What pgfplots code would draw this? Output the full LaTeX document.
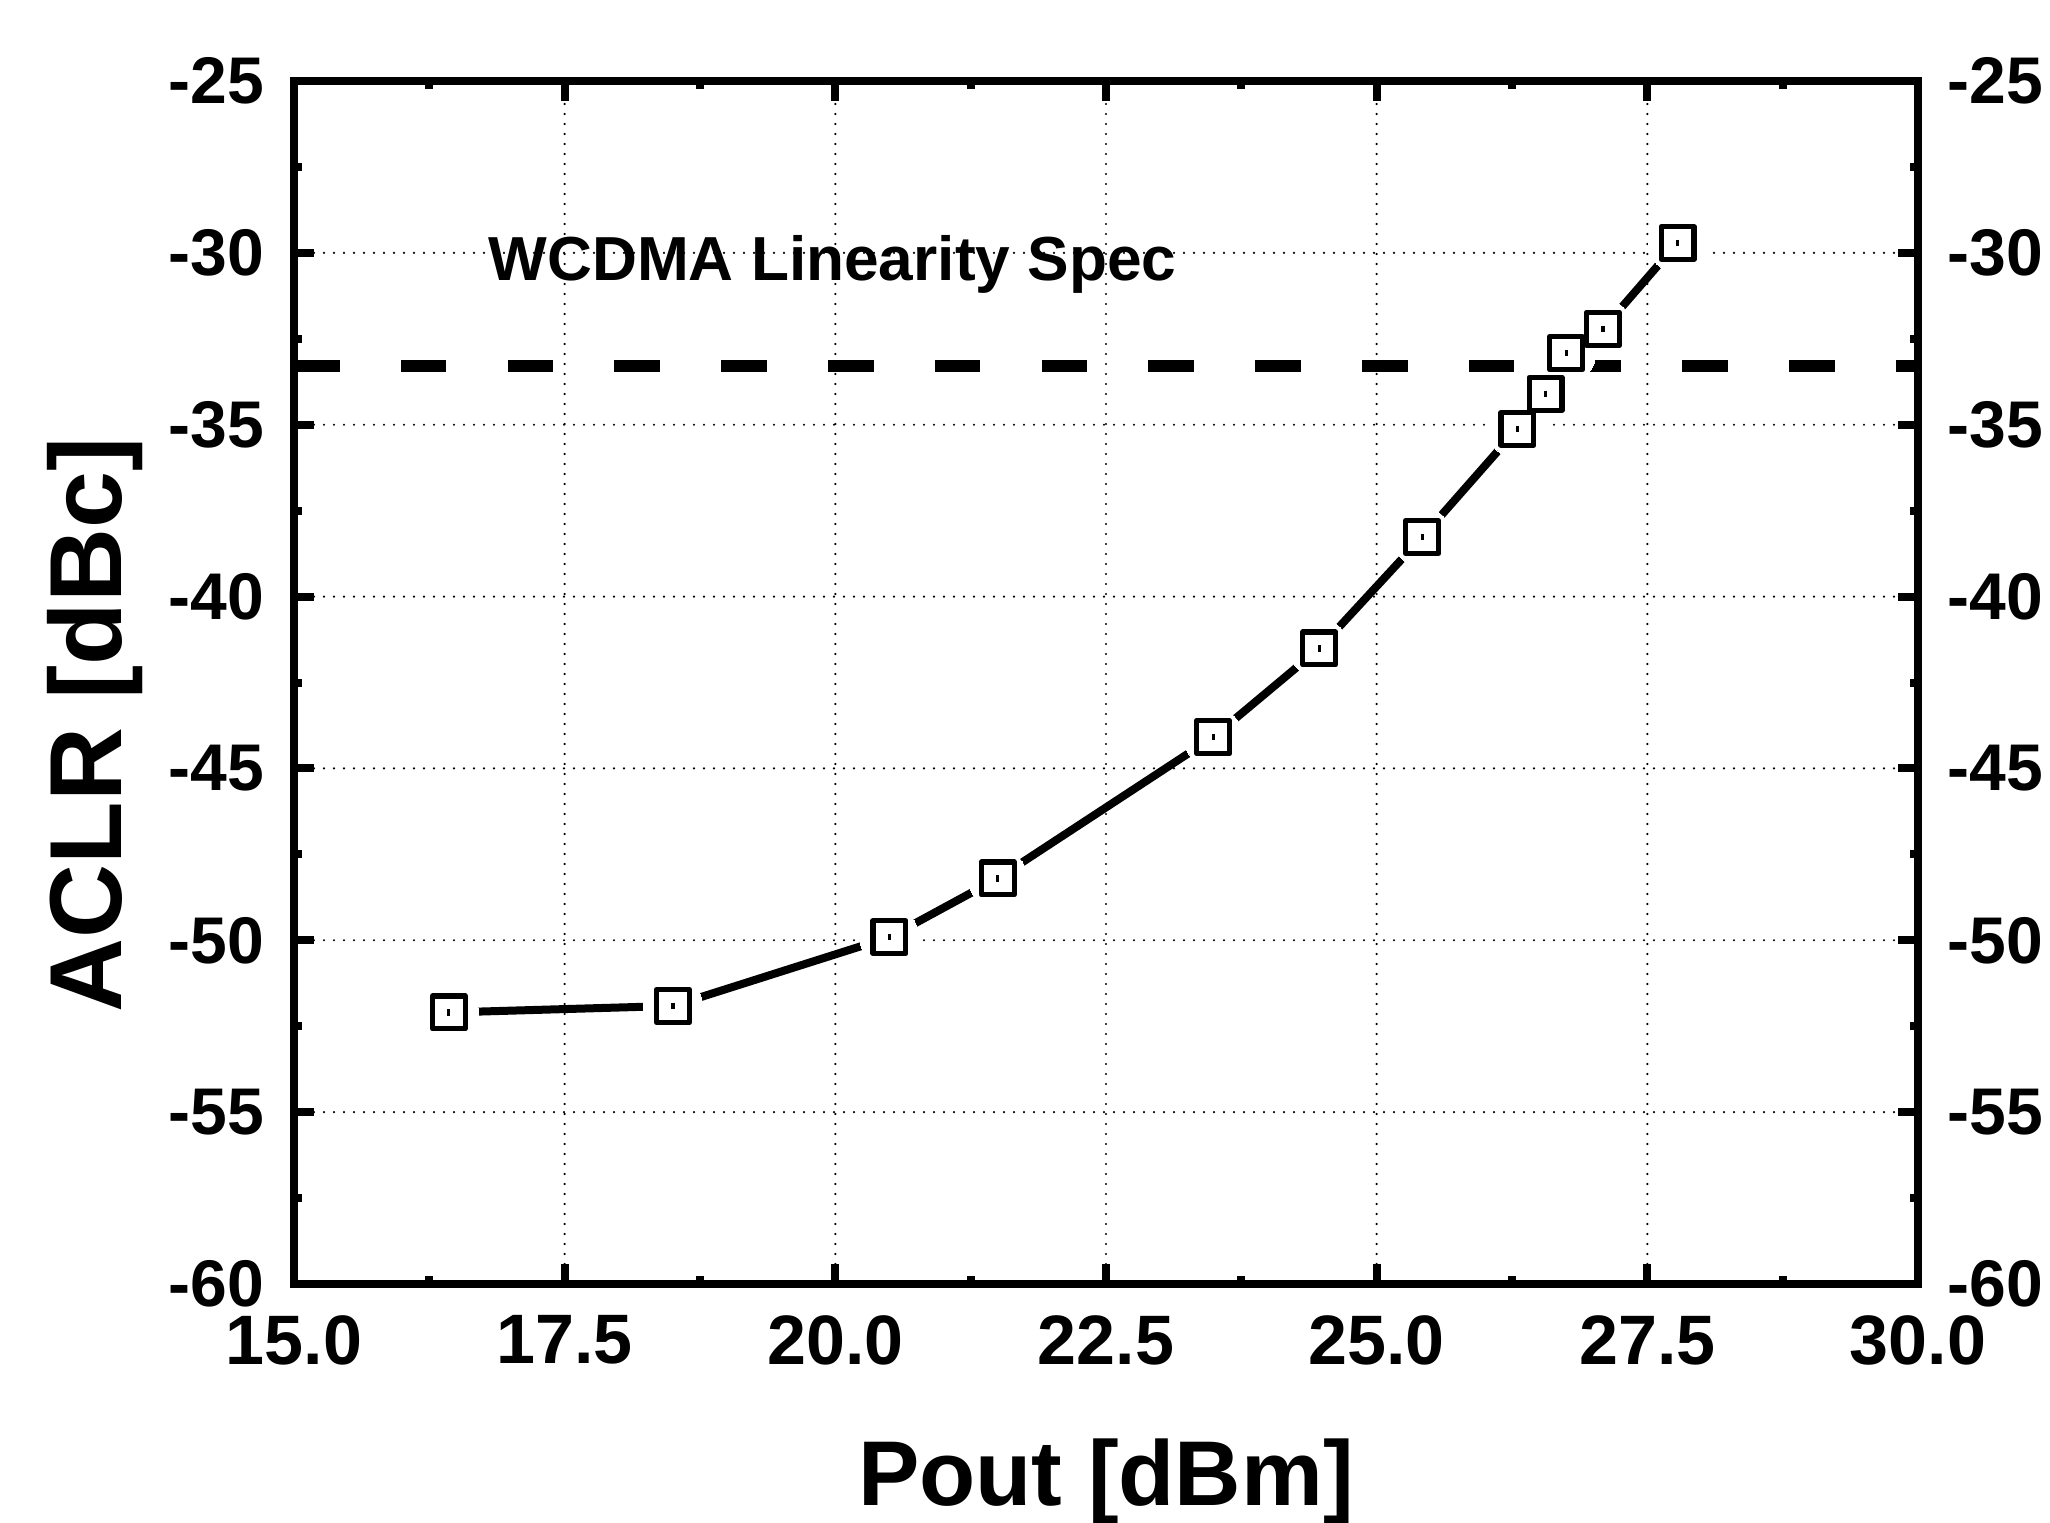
\documentclass[border=0pt]{standalone}
\usepackage{fontspec}
\setmainfont{Liberation Sans}
\usepackage{pgfplots}
\usepackage{pgfplotstable}
\pgfplotsset{compat=1.18}
\pgfplotstableread{
x y
16.43 -52.10
18.50 -51.91
20.50 -49.91
21.50 -48.20
23.49 -44.09
24.47 -41.51
25.42 -38.27
26.30 -35.12
26.56 -34.10
26.75 -32.92
27.09 -32.21
27.78 -29.71
}\data
\begin{document}
\begin{tikzpicture}
\begin{axis}[name=ax, scale only axis, width=406pt, height=300.75pt,
 xmin=15, xmax=30, ymin=-60, ymax=-25,
 xtick={15,17.5,20,22.5,25,27.5,30},
 xticklabels={15.0,17.5,20.0,22.5,25.0,27.5,30.0},
 ytick={-60,-55,-50,-45,-40,-35,-30,-25},
 yticklabels={-60,-55,-50,-45,-40,-35,-30,-25},
 minor x tick num=1, minor y tick num=1,
 tick align=inside, major tick length=5pt, minor tick length=2pt,
 every tick/.style={black, line width=2pt},
 axis line style={black, line width=2pt},
 grid=major,
 major grid style={black, line width=0.6pt, line cap=round, dash pattern=on 0pt off 2.5pt},
 xticklabel style={font=\fontsize{17.5}{17.5}\selectfont\bfseries, inner sep=0pt, anchor=north, yshift=-7.75pt},
 yticklabel style={font=\fontsize{16.5}{16.5}\selectfont\bfseries, inner sep=0pt, anchor=east, xshift=-7.25pt},
 xlabel={Pout [dBm]}, ylabel={ACLR [dBc]},
 every axis x label/.style={at={(axis description cs:0.5,-0.1845)}, anchor=base, font=\fontsize{23}{23}\selectfont\bfseries},
 every axis y label/.style={at={(axis description cs:-0.1225,0.4647)}, anchor=center, rotate=90, font=\fontsize{25.6}{25.6}\selectfont\bfseries},
]
\addplot[black, line width=2pt, line join=round, no markers] table {\data};
\addplot[white, only marks, mark=*, mark size=7.4pt, mark options={draw=white, fill=white, line width=0pt}] table {\data};
\addplot[black, line width=3pt, dash pattern=on 11.4pt off 15.3pt, no markers] coordinates {(15,-33.28) (30,-33.28)};
\addplot[black, only marks, mark=square*, mark size=4.1pt, mark options={draw=black, fill=white, line width=1.3pt, line join=round}] table {\data};
\addplot[black, only marks, mark=|, mark size=0.8pt, mark options={black, line width=0.8pt}] table {\data};
\node[anchor=base west, font=\fontsize{15.55}{15.55}\selectfont\bfseries, inner sep=0pt] at (axis cs:16.79,-30.8) {WCDMA Linearity Spec};
\end{axis}
\begin{axis}[at={(ax.south west)}, anchor=south west, scale only axis, width=406pt, height=300.75pt,
 xmin=15, xmax=30, ymin=-60, ymax=-25,
 xtick=\empty,
 ytick={-60,-55,-50,-45,-40,-35,-30,-25},
 yticklabels={-60,-55,-50,-45,-40,-35,-30,-25},
 yticklabel pos=right,
 axis line style={draw=none}, major tick length=0pt, tick style={draw=none},
 yticklabel style={font=\fontsize{16.5}{16.5}\selectfont\bfseries, inner sep=0pt, anchor=west, xshift=7.2pt},
]
\end{axis}
\pgfresetboundingbox
\path[use as bounding box] ([shift={(-73.5pt,-59.75pt)}]ax.south west) rectangle ([shift={(33pt,20.25pt)}]ax.north east);
\end{tikzpicture}
\end{document}
